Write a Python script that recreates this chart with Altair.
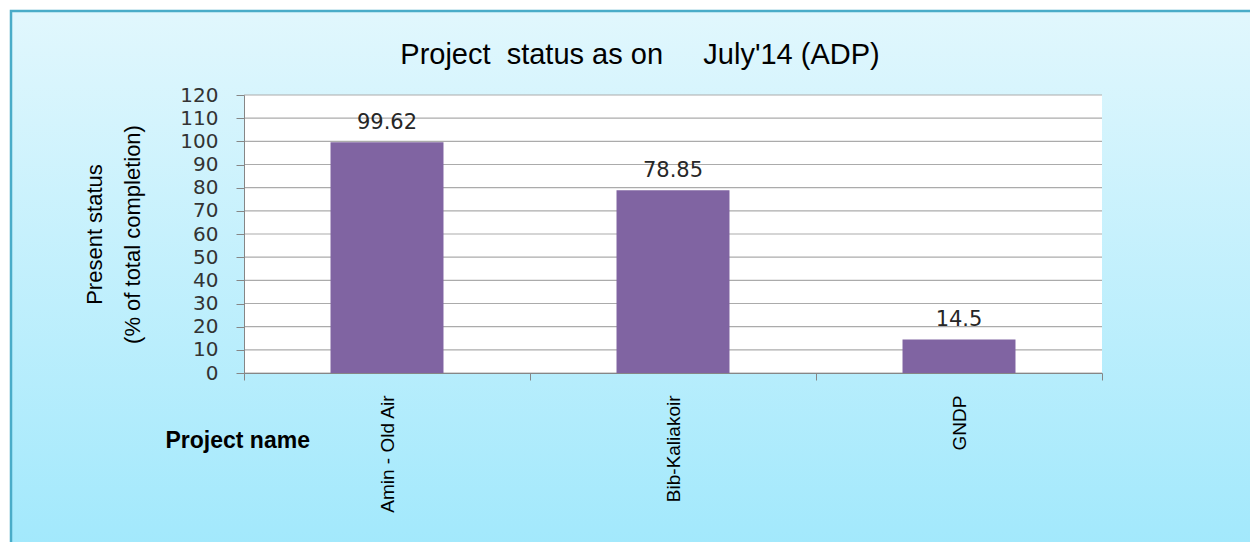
import altair as alt
import pandas as pd

# ---- data ----
projects = ["Amin - Old Air", "Bib-Kaliakoir", "GNDP"]
status = [99.62, 78.85, 14.5]
value_labels = ["99.62", "78.85", "14.5"]
y_ticks = [0, 10, 20, 30, 40, 50, 60, 70, 80, 90, 100, 110, 120]
chart_title = "Project\u00a0 status as on\u00a0\u00a0\u00a0\u00a0 July'14 (ADP)"

df = pd.DataFrame({"project": projects, "status": status, "label": value_labels})
grid_df = pd.DataFrame({"v": y_ticks})
one = pd.DataFrame({"k": [0], "t": [chart_title]})

W, H = 858, 278

yscale = alt.Scale(domain=[0, 120], nice=False, zero=True)
xscale = alt.Scale(paddingInner=0, paddingOuter=0)

y_axis = alt.Axis(
    values=y_ticks,
    grid=False,
    tickSize=8,
    tickColor="#868686",
    domainColor="#868686",
    labelFont="DejaVu Sans",
    labelFontSize=20,
    labelColor="#333333",
    labelPadding=18,
    title=["Present status", "(% of total completion)"],
    titleFont="Liberation Sans",
    titleFontSize=22,
    titleFontWeight="normal",
    titleColor="#000000",
    titleAngle=270,
    titleAlign="center",
    titleBaseline="middle",
    titleLineHeight=38,
    titleX=-150,
    titleY=H / 2,
    zindex=1,
)

x_axis = alt.Axis(
    tickBand="extent",
    tickSize=7,
    tickColor="#868686",
    domainColor="#868686",
    labelAngle=270,
    labelFont="Liberation Sans",
    labelFontSize=19,
    labelColor="#000000",
    labelPadding=15,
    title="Project name",
    titleFont="Liberation Sans",
    titleFontSize=23,
    titleFontWeight="bold",
    titleColor="#000000",
    titleAlign="left",
    titleBaseline="alphabetic",
    titleX=-79,
    titleY=74,
    grid=False,
    zindex=1,
)

gradient = {
    "gradient": "linear",
    "x1": 0, "y1": 0, "x2": 0, "y2": 1,
    "stops": [
        {"offset": 0, "color": "#e1f7fd"},
        {"offset": 1, "color": "#a0e8fc"},
    ],
}

bg = alt.Chart(one).mark_rect(fill=gradient, stroke="#4aacc8", strokeWidth=2.5).encode(
    x=alt.value(-233), x2=alt.value(1030), y=alt.value(-84), y2=alt.value(470)
)

plot_bg = alt.Chart(one).mark_rect(fill="white", stroke=None).encode(
    x=alt.value(0), x2=alt.value(W), y=alt.value(0), y2=alt.value(H)
)

title_mark = alt.Chart(one).mark_text(
    font="Liberation Sans", fontSize=29, color="#000000",
    align="center", baseline="alphabetic"
).encode(x=alt.value(396), y=alt.value(-31), text="t:N")

grid = alt.Chart(grid_df).mark_rule(color="#ababab", strokeWidth=1.2).encode(
    y=alt.Y("v:Q", scale=yscale, axis=y_axis)
)

bars = alt.Chart(df).mark_bar(color="#8064a2", width={"band": 0.395}).encode(
    x=alt.X("project:N", sort=projects, scale=xscale, axis=x_axis),
    y=alt.Y("status:Q", scale=yscale, axis=y_axis),
)

texts = alt.Chart(df).mark_text(
    font="DejaVu Sans", fontSize=21, color="#262626", baseline="alphabetic", dy=-13
).encode(
    x=alt.X("project:N", sort=projects, scale=xscale, axis=x_axis),
    y=alt.Y("status:Q", scale=yscale, axis=y_axis),
    text="label:N",
)

chart = alt.layer(bg, plot_bg, title_mark, grid, bars, texts).properties(
    width=W,
    height=H,
    autosize=alt.AutoSizeParams(type="none"),
    padding={"left": 236, "top": 87, "right": 148, "bottom": 169},
).configure_view(stroke=None).configure(background="white")

chart.save("out.html", embed_options={"renderer": "svg", "actions": False})
